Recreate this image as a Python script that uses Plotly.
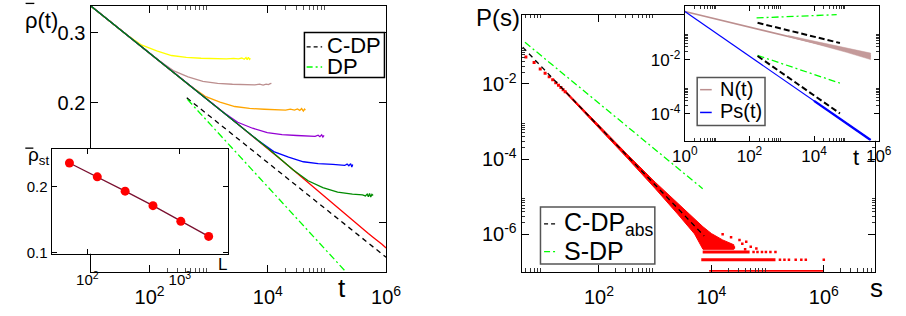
import numpy as np
import plotly.graph_objects as go

W, H = 906, 316
FONT = "Liberation Sans, Arial, sans-serif"

# ---------------- Left panel: rho(t) for several L (log10 t, rho) ----------------
red_logt = [1.0, 1.25, 1.5, 1.75, 2.0, 2.25, 2.5, 2.75, 3.0, 3.25, 3.5, 3.75, 4.0, 4.25,
            4.5, 4.75, 5.0, 5.25, 5.5, 5.7, 5.8, 5.87, 5.93, 6.0]
red_rho = [0.350, 0.3266, 0.3051, 0.2851, 0.2661, 0.2483, 0.2317, 0.2163, 0.2018, 0.1888,
           0.1762, 0.1644, 0.1535, 0.1426, 0.1327, 0.1233, 0.1148, 0.1069, 0.0993, 0.0937,
           0.0912, 0.0896, 0.0881, 0.0862]

yel_logt = [1.0, 1.25, 1.5, 1.62, 1.87, 2.12, 2.37, 2.62, 2.87, 3.12, 3.3, 3.42, 3.5, 3.56,
            3.6, 3.63, 3.65, 3.67, 3.69, 3.705]
yel_rho = [0.350, 0.3266, 0.3051, 0.2955, 0.2788, 0.2696, 0.2626, 0.2598, 0.2585, 0.2580,
           0.2574, 0.2584, 0.2576, 0.2588, 0.2570, 0.2594, 0.2562, 0.2600, 0.2568, 0.2584]

brn_logt = [1.0, 1.5, 2.0, 2.15, 2.4, 2.65, 2.9, 3.15, 3.4, 3.65, 3.78, 3.86, 3.92, 3.97,
            4.01, 4.04, 4.06]
brn_rho = [0.350, 0.3051, 0.2661, 0.2554, 0.2407, 0.2320, 0.2260, 0.2236, 0.2224, 0.2220,
           0.2215, 0.2224, 0.2213, 0.2226, 0.2219, 0.2231, 0.2236]

org_logt = [1.0, 1.5, 2.0, 2.5, 2.69, 2.94, 3.19, 3.44, 3.69, 3.94, 4.19, 4.3, 4.38, 4.45,
            4.5, 4.54, 4.57, 4.6, 4.62, 4.635]
org_rho = [0.350, 0.3051, 0.2661, 0.2317, 0.2200, 0.2074, 0.2006, 0.1955, 0.1933, 0.1924,
           0.1920, 0.1914, 0.1925, 0.1915, 0.1928, 0.1912, 0.1932, 0.1905, 0.1926, 0.1915]

pur_logt = [1.0, 1.5, 2.0, 2.5, 3.0, 3.24, 3.49, 3.74, 3.99, 4.24, 4.49, 4.74, 4.8, 4.85,
            4.88, 4.91, 4.93, 4.95]
pur_rho = [0.350, 0.3051, 0.2661, 0.2317, 0.2018, 0.1893, 0.1785, 0.1724, 0.1680, 0.1662,
           0.1653, 0.1650, 0.1645, 0.1656, 0.1642, 0.1660, 0.1638, 0.1655]

blu_logt = [1.0, 1.5, 2.0, 2.5, 3.0, 3.5, 3.85, 4.1, 4.35, 4.6, 4.85, 5.1, 5.25, 5.3, 5.34,
            5.37, 5.4, 5.42, 5.435]
blu_rho = [0.350, 0.3051, 0.2661, 0.2317, 0.2018, 0.1762, 0.1600, 0.1506, 0.1458, 0.1420,
           0.1405, 0.1399, 0.1395, 0.1390, 0.1401, 0.1388, 0.1405, 0.1378, 0.1398]

grn_logt = [1.0, 1.5, 2.0, 2.5, 3.0, 3.5, 4.0, 4.43, 4.68, 4.93, 5.18, 5.43, 5.6, 5.65, 5.68,
            5.7, 5.72, 5.74, 5.76, 5.78]
grn_rho = [0.350, 0.3051, 0.2661, 0.2317, 0.2018, 0.1762, 0.1535, 0.1354, 0.1272, 0.1223,
           0.1191, 0.1178, 0.1172, 0.1165, 0.1178, 0.1160, 0.1182, 0.1158, 0.1176, 0.1168]

cdp_logt = [2.628, 6.0]
cdp_rho = [0.2056, 0.0817]
dp_logt = [2.639, 5.316]
dp_rho = [0.2037, 0.0752]

# inset: stationary density vs L
L_vals = [64, 128, 256, 512, 1024, 2048]
rho_st = [0.257, 0.222, 0.191, 0.164, 0.139, 0.1186]

# ---------------- Right panel: P(s) (log10 s, log10 P) ----------------
s_small = [5, 7, 9, 11, 13, 15, 17, 19, 21, 23, 25]
P_small = [0.0524, 0.0372, 0.0251, 0.0193, 0.0155, 0.0129, 0.01084, 0.00923, 0.00804,
           0.0070, 0.00617]

band_up_logs = [1.40, 2.0, 2.5, 3.0, 3.4, 3.7, 3.85, 4.0, 4.2, 4.4]
band_up_logP = [-2.177, -3.103, -3.868, -4.613, -5.182, -5.59, -5.80, -5.98, -6.15, -6.28]
band_lo_logs = [1.40, 2.0, 2.5, 3.0, 3.4, 3.7, 3.8, 3.85, 4.4]
band_lo_logP = [-2.227, -3.173, -3.968, -4.783, -5.462, -5.99, -6.25, -6.40, -6.40]

extra_logs = [4.2, 4.35, 4.5, 4.55, 4.62, 4.7, 4.8, 4.4, 4.6]
extra_logP = [-6.0, -6.08, -6.15, -6.25, -6.2, -6.33, -6.38, -6.35, -6.4]

stripe_logP = [-6.475, -6.675, -6.99]
stripe_start = [3.845, 3.82, 3.96]
stripe_end = [4.68, 5.14, 6.0]
sparse1_logs = [4.75, 4.82, 4.9, 4.97, 5.05, 5.14]
sparse2_logs = [5.22, 5.3, 5.38, 5.5, 5.6, 5.68, 6.0]

cdpabs_logs = [0.643, 3.872]
cdpabs_logP = [-1.021, -6.044]
sdp_logs = [0.683, 3.845]
sdp_logP = [-0.891, -4.787]

# right inset: N(t), Ps(t)
N_logt = [0.0, 1.0, 2.0, 3.0, 4.0, 5.0, 5.75]
N_logN = [-0.21, -0.495, -0.78, -1.065, -1.35, -1.635, -1.87]
Nb_logt = [3.2, 4.0, 5.0, 5.75]
Nb_up = [-1.10, -1.31, -1.55, -1.75]
Nb_lo = [-1.14, -1.39, -1.72, -1.99]
Ps_logt = [0.0, 4.0, 5.75]
Ps_logP = [-0.21, -3.52, -4.97]
ins_green1 = ([2.22, 4.70], [-0.446, -0.326])
ins_black1 = ([2.25, 4.80], [-0.627, -1.377])
ins_green2 = ([2.25, 4.80], [-1.837, -2.862])
ins_black2 = ([2.25, 4.80], [-1.859, -3.986])


def p10(a):
    return list(np.power(10.0, np.array(a, dtype=float)))


fig = go.Figure()


def add(x, y, xa, ya, **kw):
    fig.add_trace(go.Scatter(x=x, y=y, xaxis=xa, yaxis=ya, showlegend=False,
                             hoverinfo="skip", **kw))


# left main
for lt, rv, col in [(red_logt, red_rho, "#ff0000"), (yel_logt, yel_rho, "#ffff00"),
                    (brn_logt, brn_rho, "#bc8f8f"), (org_logt, org_rho, "#ffa500"),
                    (pur_logt, pur_rho, "#9400d3"), (blu_logt, blu_rho, "#0000ff"),
                    (grn_logt, grn_rho, "#008b00")]:
    add(p10(lt), rv, "x", "y", mode="lines", line=dict(color=col, width=1.3))
add(p10(cdp_logt), cdp_rho, "x", "y", mode="lines",
    line=dict(color="black", width=1.3, dash="5px,4px"))
add(p10(dp_logt), dp_rho, "x", "y", mode="lines",
    line=dict(color="#00ff00", width=1.3, dash="7px,3px,2px,3px"))

# left inset
add(L_vals, rho_st, "x2", "y2", mode="lines+markers",
    line=dict(color="#7a1030", width=1.3),
    marker=dict(color="#ff0000", size=9, line=dict(width=0)))

# right main
add(p10(band_up_logs + band_lo_logs[::-1]), p10(band_up_logP + band_lo_logP[::-1]),
    "x3", "y3", mode="lines", fill="toself", fillcolor="#ff0000",
    line=dict(color="#ff0000", width=1))
add(s_small, P_small, "x3", "y3", mode="markers",
    marker=dict(color="#ff0000", size=3, symbol="square", line=dict(width=0)))
add(p10(extra_logs), p10(extra_logP), "x3", "y3", mode="markers",
    marker=dict(color="#ff0000", size=2.5, symbol="square", line=dict(width=0)))
for lp, a, b in zip(stripe_logP, stripe_start, stripe_end):
    add(p10([a, b]), p10([lp, lp]), "x3", "y3", mode="lines",
        line=dict(color="#ff0000", width=3))
add(p10(sparse1_logs), p10([stripe_logP[0]] * len(sparse1_logs)), "x3", "y3", mode="markers",
    marker=dict(color="#ff0000", size=2.5, symbol="square", line=dict(width=0)))
add(p10(sparse2_logs), p10([stripe_logP[1]] * len(sparse2_logs)), "x3", "y3", mode="markers",
    marker=dict(color="#ff0000", size=2.5, symbol="square", line=dict(width=0)))
add(p10(cdpabs_logs), p10(cdpabs_logP), "x3", "y3", mode="lines",
    line=dict(color="black", width=1.3, dash="5px,4px"))
add(p10(sdp_logs), p10(sdp_logP), "x3", "y3", mode="lines",
    line=dict(color="#00ff00", width=1.3, dash="7px,3px,2px,3px"))

# right inset
add(p10(N_logt), p10(N_logN), "x4", "y4", mode="lines", line=dict(color="#bc8f8f", width=1.5))
add(p10(Nb_logt + Nb_logt[::-1]), p10(Nb_up + Nb_lo[::-1]), "x4", "y4", mode="lines",
    fill="toself", fillcolor="#c49a9a", line=dict(color="#c49a9a", width=0.5))
add(p10(Ps_logt), p10(Ps_logP), "x4", "y4", mode="lines", line=dict(color="#0000ff", width=1.2))
add(p10(Ps_logt[1:]), p10(Ps_logP[1:]), "x4", "y4", mode="lines",
    line=dict(color="#0000ff", width=2.4))
for (lx, ly), col in [(ins_green1, "#00ff00"), (ins_green2, "#00ff00")]:
    add(p10(lx), p10(ly), "x4", "y4", mode="lines",
        line=dict(color=col, width=1.3, dash="7px,3px,2px,3px"))
for lx, ly in [ins_black1, ins_black2]:
    add(p10(lx), p10(ly), "x4", "y4", mode="lines",
        line=dict(color="black", width=2, dash="6px,3px"))


def X(p):
    return p / W


def Y(p):
    return 1 - p / H


def minor_vals(exps, kmin=2, kmax=9):
    return [k * 10.0 ** n for n in exps for k in range(kmin, kmax + 1)]


def sup(n):
    return "10<sup>%s</sup>" % n


base = dict(type="log", showline=True, linecolor="black", linewidth=1.3, mirror="ticks",
            ticks="inside", tickcolor="black", tickwidth=1.3, showgrid=False, zeroline=False,
            tickfont=dict(family=FONT, size=20, color="black"), tickmode="array")

fig.update_layout(
    width=W, height=H, margin=dict(l=0, r=0, t=0, b=0),
    paper_bgcolor="white", plot_bgcolor="white", showlegend=False,
    font=dict(family=FONT, color="black"),
    xaxis=dict(base, domain=[X(80), X(385)], range=[1, 6], anchor="y", ticklen=7,
               tickvals=[1e2, 1e4, 1e6], ticktext=[sup(2), sup(4), sup(6)],
               ticklabelstandoff=7,
               minor=dict(ticks="inside", ticklen=3.5, tickwidth=0.8, tickcolor="#555",
                          tickvals=minor_vals([2, 4]))),
    yaxis=dict(base, domain=[Y(278), Y(6)], range=[np.log10(0.0751), np.log10(0.35)],
               anchor="x", ticklen=7, tickvals=[0.1, 0.2, 0.3], ticktext=["", "0.2", "0.3"]),
    xaxis2=dict(base, domain=[X(40), X(222)], range=[1.615, 3.522], anchor="y2", ticklen=5,
                tickvals=[1e2, 1e3], ticktext=[sup(2), sup(3)], ticklabelstandoff=12,
                tickfont=dict(family=FONT, size=15, color="black")),
    yaxis2=dict(base, domain=[Y(259.5), Y(152)], range=[-1.005, -0.5246], anchor="x2",
                ticklen=5, tickvals=[0.1, 0.2], ticktext=["0.1", "0.2"],
                tickfont=dict(family=FONT, size=15, color="black")),
    xaxis3=dict(base, domain=[X(525), X(890)], range=[0.626, 6.92], anchor="y3", ticklen=7,
                tickvals=[1e2, 1e4, 1e6], ticktext=[sup(2), sup(4), sup(6)],
                ticklabelstandoff=7,
                minor=dict(ticks="inside", ticklen=3.5, tickwidth=0.8, tickcolor="#333",
                           tickvals=minor_vals([0, 2, 4, 6]))),
    yaxis3=dict(base, domain=[Y(278), Y(15)], range=[-7.0, -0.155], anchor="x3", ticklen=7,
                tickvals=[1e-2, 1e-4, 1e-6], ticktext=[sup("-2"), sup("-4"), sup("-6")],
                minor=dict(ticks="inside", ticklen=3.5, tickwidth=0.8, tickcolor="#333",
                           tickvals=minor_vals([-2, -4, -6]))),
    xaxis4=dict(base, domain=[X(693.3), X(893.3)], range=[0, 6], anchor="y4", ticklen=5,
                tickvals=[1, 1e2, 1e4, 1e6], ticktext=[sup(0), sup(2), sup(4), sup(6)],
                tickfont=dict(family=FONT, size=17, color="black"),
                minor=dict(ticks="inside", ticklen=3, tickwidth=0.8, tickcolor="#333",
                           tickvals=minor_vals([0, 2, 4]))),
    yaxis4=dict(base, domain=[Y(144), Y(6)], range=[-5, 0], anchor="x4", ticklen=5,
                tickvals=[1e-2, 1e-4], ticktext=[sup("-2"), sup("-4")],
                tickfont=dict(family=FONT, size=17, color="black"),
                minor=dict(ticks="inside", ticklen=3, tickwidth=0.8, tickcolor="#333",
                           tickvals=minor_vals([-2, -4]))),
)


def ann(text, x, y, size, xanchor="center", yanchor="middle"):
    fig.add_annotation(text=text, x=X(x), y=Y(y), xref="paper", yref="paper",
                       showarrow=False, xanchor=xanchor, yanchor=yanchor,
                       font=dict(family=FONT, size=size, color="black"))


def hline(x0, x1, y, color="black", width=1.5, dash=None):
    fig.add_shape(type="line", xref="paper", yref="paper", x0=X(x0), x1=X(x1), y0=Y(y),
                  y1=Y(y), line=dict(color=color, width=width, dash=dash))


def box(x0, x1, y0, y1, color="black", width=1.5):
    fig.add_shape(type="rect", xref="paper", yref="paper", x0=X(x0), x1=X(x1), y0=Y(y1),
                  y1=Y(y0), line=dict(color=color, width=width), fillcolor="rgba(0,0,0,0)")


# axis titles
ann("ρ(t)", 29, 21, 22)
hline(13, 22, 3.5, width=1.3)
ann("ρ<sub>st</sub>", 26, 160, 19)
hline(12.7, 21, 151.5, width=1.3)
ann("L", 216, 271, 17)
ann("t", 340, 295, 26)
ann("P(s)", 500, 18, 24)
ann("s", 891, 295, 26)
ann("t", 870, 161, 22)

# legends (drawn manually)
box(300.7, 383.3, 33.3, 79.3)
hline(303, 319, 48, dash="4px,3px", width=1.3)
hline(303, 319, 68.5, color="#00ff00", dash="6px,3px,2px,3px", width=1.3)
ann("C-DP", 322, 46.5, 22, xanchor="left")
ann("DP", 322, 68.5, 22, xanchor="left")

box(544.3, 662.3, 211.7, 270, color="#555")
hline(548, 561, 229, dash="4px,3px", width=1.3)
hline(548, 561, 257.3, color="#00ff00", dash="6px,3px,2px,3px", width=1.3)
ann("C-DP<sub>abs</sub>", 566, 229, 25, xanchor="left")
ann("S-DP", 566, 256.5, 25, xanchor="left")

box(706, 776, 79.3, 128.3, color="#555")
hline(709, 721, 91.7, color="#bc8f8f", width=1.5)
hline(709, 721, 115, color="#0000ff", width=1.5)
ann("N(t)", 727, 91, 20, xanchor="left")
ann("Ps(t)", 727, 113.5, 20, xanchor="left")

fig.write_html("out.html", config={"displayModeBar": False},
               post_script="document.body.style.margin='0px';document.body.style.overflow='hidden';")
